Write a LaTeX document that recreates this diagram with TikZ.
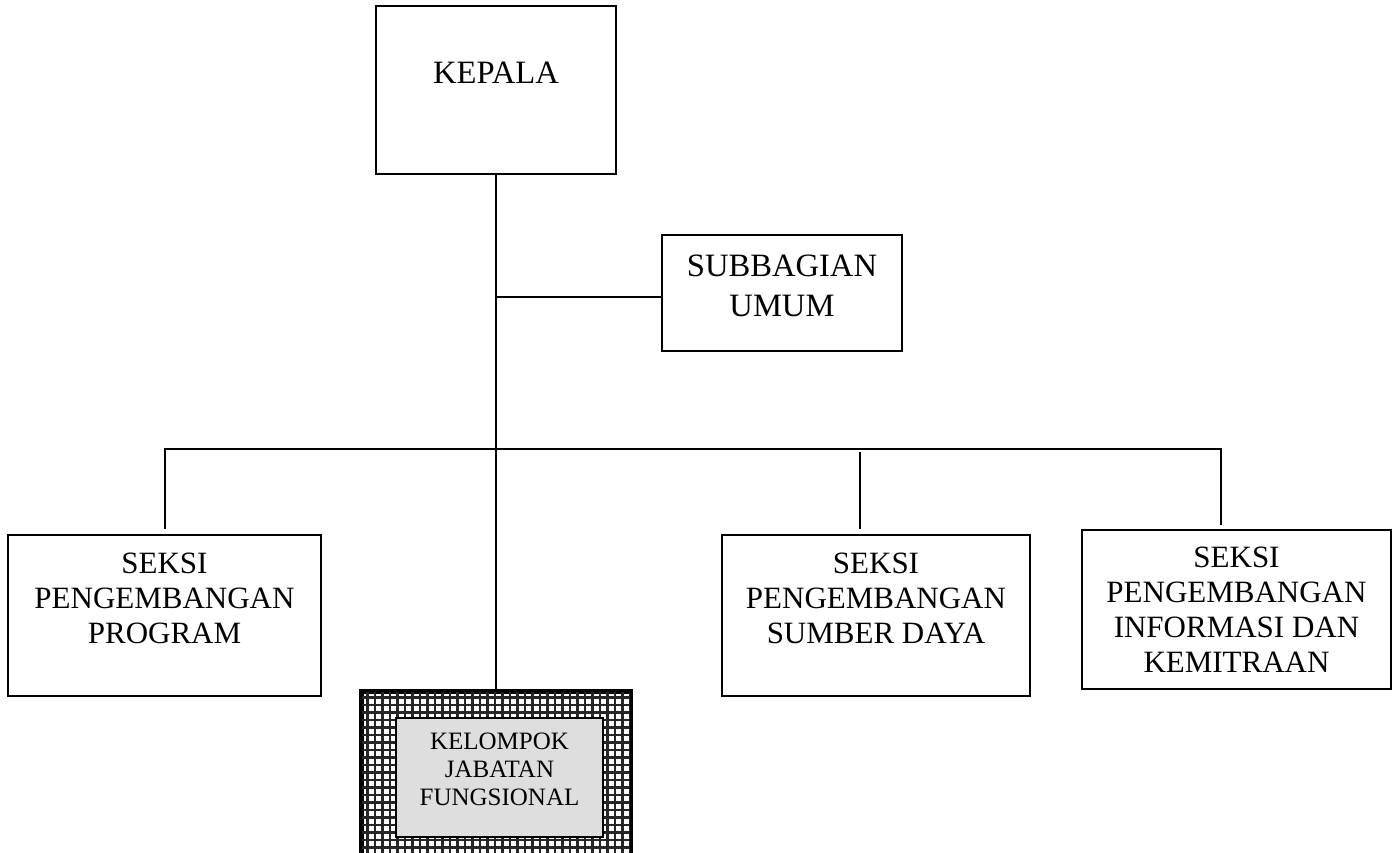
\documentclass[tikz,border=0pt]{standalone}
\usepackage{fontspec}
\setmainfont{Liberation Serif}
\usepackage{tikz}
\usetikzlibrary{positioning}

\tikzset{
    kotak/.style={draw, line width=1.1pt, align=center, inner sep=0pt},
    garis/.style={line width=1pt},
    huruf besar/.style={font=\fontsize{16.3}{20}\selectfont},
    huruf seksi/.style={font=\fontsize{15.5}{17.5}\selectfont},
}

\begin{document}
\begin{tikzpicture}[x=0.5pt, y=-0.5pt]
        \useasboundingbox (0,0) rectangle (1398,852);
        % Kotak-kotak jabatan
        \node[kotak, huruf besar, minimum width=120pt, minimum height=84pt] (kepala) at (496,90) {KEPALA\\[-2.5pt]\mbox{}};
        \node[kotak, huruf besar, minimum width=120pt, minimum height=58pt] (subbagian) at (782,293) {SUBBAGIAN\\UMUM\\[-12.5pt]\mbox{}};
        \node[kotak, huruf seksi, minimum width=156.5pt, minimum height=80.5pt] (program) at (164.5,615.5) {SEKSI\\PENGEMBANGAN\\PROGRAM\\\mbox{}};
        \node[kotak, huruf seksi, minimum width=154pt, minimum height=80.5pt] (sumberdaya) at (876,615.5) {SEKSI\\PENGEMBANGAN\\SUMBER DAYA\\\mbox{}};
        \node[kotak, huruf seksi, minimum width=154.5pt, minimum height=79.5pt] (informasi) at (1236.5,609.5) {SEKSI\\PENGEMBANGAN\\INFORMASI DAN\\KEMITRAAN};

        % Kelompok jabatan fungsional dengan bingkai kotak-kotak
        \node[draw, line width=1.5pt, minimum width=134pt, minimum height=86pt, inner sep=0pt] (bingkai) at (496,778) {};
        \begin{scope}
            \clip (bingkai.south west) rectangle (bingkai.north east);
            \draw[line width=1.2pt, black!85, step=3.75pt] (bingkai.south west) grid (bingkai.north east);
        \end{scope}
        \draw[line width=1.5pt] (bingkai.south west) rectangle (bingkai.north east);
        \node[kotak, fill=black!13, font=\fontsize{12.5}{14}\selectfont, minimum width=103.5pt, minimum height=59.5pt] (kelompok) at (499.5,777.5) {KELOMPOK\\JABATAN\\FUNGSIONAL\\[-5.5pt]\mbox{}};

        % Garis penghubung
        \coordinate (cabang) at (496,449);
        \coordinate (tengah) at (860,449);
        \coordinate (ujung) at (1221,449);
        \coordinate (sambung) at ([yshift=-2pt]subbagian.west);
        \draw[garis] (kepala) -- (bingkai);
        \draw[garis] (kepala.south |- sambung) -- (sambung);
        \draw[garis, shorten <=2.5pt, shorten >=2pt] (program.north) -- (program.north |- cabang) -- (ujung) -- (ujung |- informasi.north);
        \draw[garis, shorten <=1.5pt, shorten >=2.5pt] (tengah) -- (tengah |- sumberdaya.north);
    \end{tikzpicture}
\end{document}
